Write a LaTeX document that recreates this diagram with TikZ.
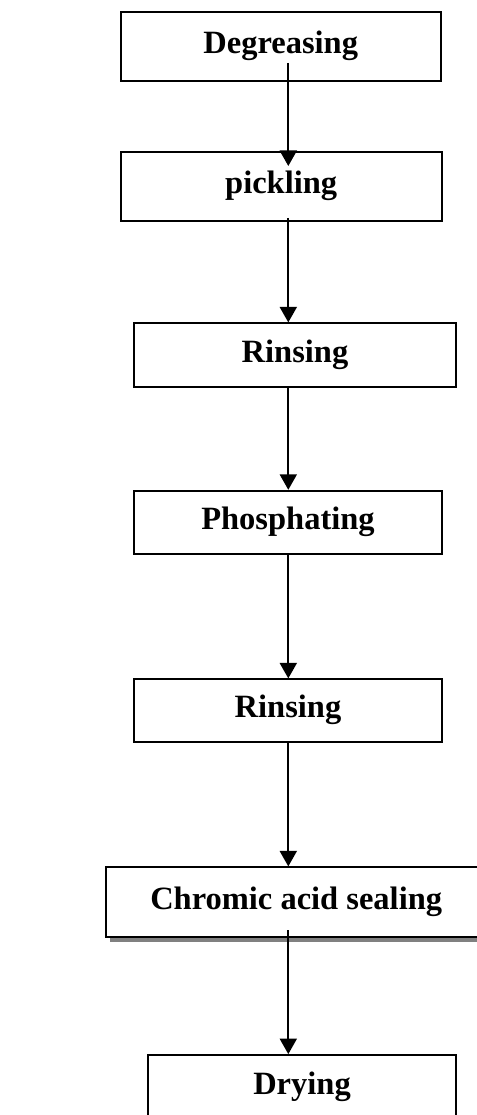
\documentclass[tikz,border=0pt]{standalone}
\usepackage{fontspec}
\setmainfont{Liberation Serif}
\usetikzlibrary{arrows.meta,shadows}
\begin{document}
\begin{tikzpicture}[x=1pt,y=-1pt,
  stepbox/.style={draw=black, line width=1.8pt, fill=white, inner sep=0pt,
    font=\fontsize{32.5}{38}\selectfont\bfseries, text height=23pt, text depth=9pt},
  arr/.style={line width=2pt, -{Triangle[length=15.5pt,width=17pt]}}]
\useasboundingbox (0,0) rectangle (476,1115);
\fill[white] (0,0) rectangle (476,1115);
\node[stepbox, minimum width=320pt, minimum height=69.3pt] (deg) at (280.7,46.35) {Degreasing};
\node[stepbox, minimum width=321pt, minimum height=69.3pt] (pick) at (281.2,186.35) {pickling};
\node[stepbox, minimum width=321.4pt, minimum height=63.4pt] (rin1) at (295,355) {Rinsing};
\node[stepbox, minimum width=307.4pt, minimum height=63.3pt] (phos) at (288,522.35) {Phosphating};
\node[stepbox, minimum width=307.4pt, minimum height=62.4pt] (rin2) at (288,710.5) {Rinsing};
\node[stepbox, minimum width=414.3pt, minimum height=69.4pt,
  drop shadow={shadow xshift=4pt, shadow yshift=-5.5pt, fill=black!50, opacity=1}] (chrom) at (312.85,902) {Chromic acid sealing\hspace*{33.3pt}};
\node[stepbox, minimum width=307.4pt, minimum height=65pt] (dry) at (302,1087.5) {Drying};
\coordinate (s1) at (288.3,63);
\coordinate (e1) at (288.3,166);
\coordinate (s2) at (288.3,218);
\coordinate (s6) at (288.3,930);
\coordinate (ax) at (288.3,0);
\draw[arr] (s1) -- (e1);
\draw[arr] (s2) -- (rin1.north -| ax);
\draw[arr] (rin1.south -| ax) -- (phos.north -| ax);
\draw[arr] (phos.south -| ax) -- (rin2.north -| ax);
\draw[arr] (rin2.south -| ax) -- (chrom.north -| ax);
\draw[arr] (s6) -- (dry.north -| ax);
\end{tikzpicture}
\end{document}
